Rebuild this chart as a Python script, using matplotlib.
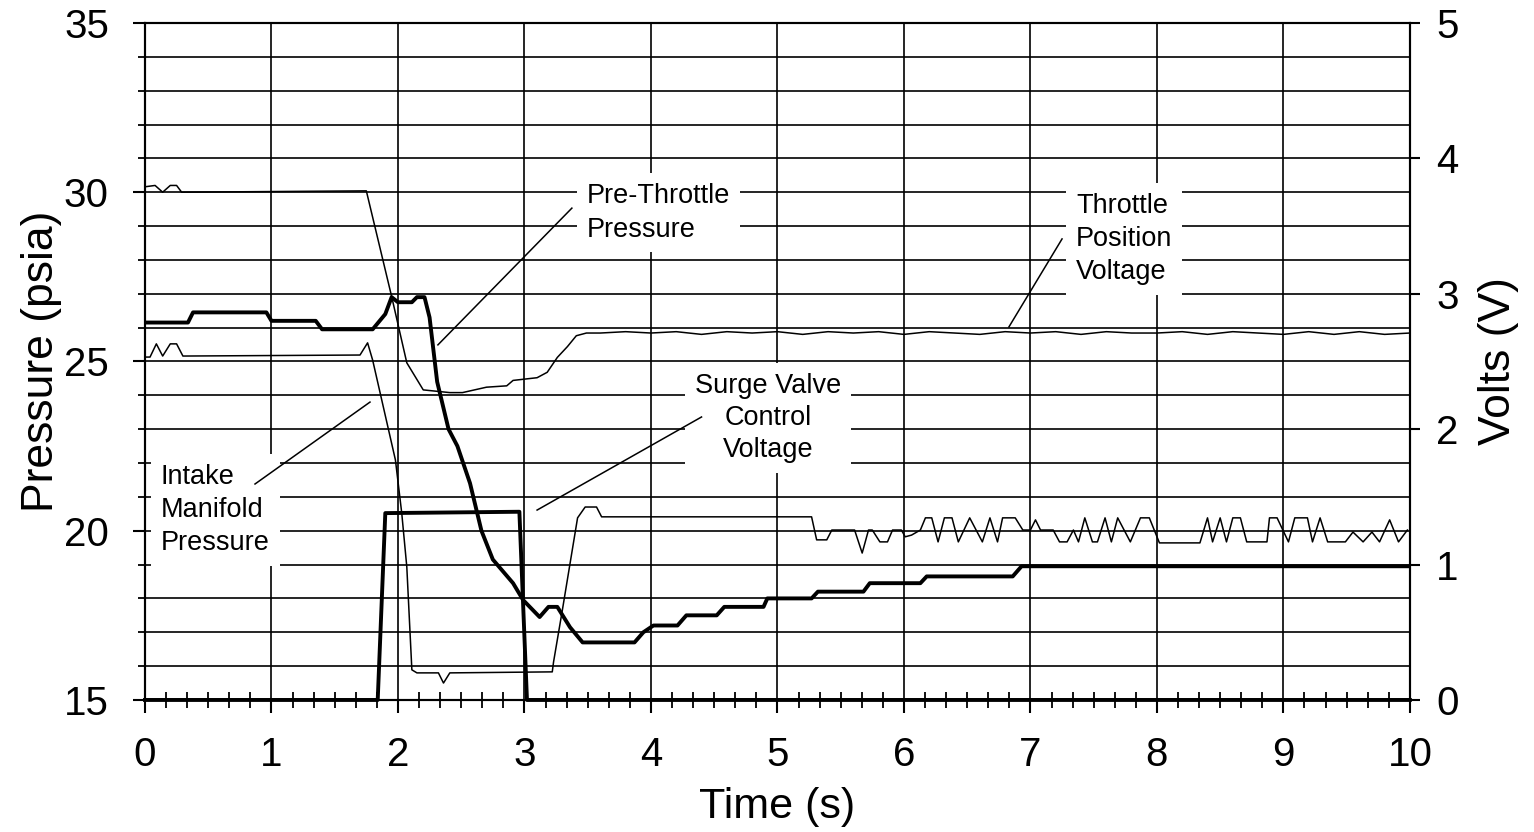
import matplotlib
matplotlib.use("Agg")
import matplotlib.pyplot as plt
from matplotlib.ticker import MultipleLocator

plt.rcParams['font.family'] = ['Liberation Sans', 'DejaVu Sans']

# pre-throttle pressure (psia), thick line, left axis
pre_t = [0, 0.34, 0.38, 0.96, 1.0, 1.35, 1.40, 1.80, 1.90, 1.95, 2.0, 2.11, 2.15, 2.21,
         2.25, 2.31, 2.40, 2.47, 2.57, 2.66, 2.75, 2.91, 2.99, 3.12, 3.19, 3.26, 3.36,
         3.46, 3.87, 3.94, 4.02, 4.21, 4.28, 4.52, 4.58, 4.89, 4.92, 5.27, 5.32, 5.68,
         5.73, 6.13, 6.18, 6.86, 6.93, 10.0]
pre_psi = [26.15, 26.15, 26.45, 26.45, 26.2, 26.2, 25.95, 25.95, 26.4, 26.9, 26.75, 26.75,
           26.9, 26.9, 26.3, 24.4, 23.0, 22.5, 21.4, 20.0, 19.15, 18.45, 17.95, 17.45,
           17.75, 17.75, 17.15, 16.7, 16.7, 17.0, 17.2, 17.2, 17.5, 17.5, 17.75, 17.75,
           18.0, 18.0, 18.2, 18.2, 18.45, 18.45, 18.65, 18.65, 18.95, 18.95]

# intake manifold pressure (psia), thin line, left axis
intake_t = [0, 0.04, 0.09, 0.14, 0.20, 0.25, 0.30, 1.70, 1.76, 1.80, 1.98, 2.03, 2.07, 2.11,
            2.15, 2.32, 2.36, 2.41, 3.22, 3.23, 3.30, 3.42, 3.48, 3.57, 3.61, 5.27,
            5.31, 5.39, 5.43, 5.61, 5.67, 5.72, 5.75, 5.81, 5.87, 5.91, 5.98, 6.01, 6.06,
            6.13, 6.17, 6.22, 6.27, 6.32, 6.38, 6.43, 6.52, 6.62, 6.68, 6.74, 6.78, 6.88,
            6.94, 7.00, 7.04, 7.08, 7.18, 7.23, 7.29, 7.34, 7.38, 7.43, 7.49, 7.53, 7.59,
            7.64, 7.69, 7.79, 7.87, 7.94, 8.02, 8.34, 8.40, 8.44, 8.50, 8.55, 8.60, 8.66,
            8.71, 8.87, 8.89, 8.95, 9.04, 9.09, 9.19, 9.23, 9.29, 9.35, 9.49, 9.55, 9.63,
            9.70, 9.76, 9.84, 9.91, 9.98]
intake_psi = [25.13, 25.13, 25.52, 25.16, 25.52, 25.52, 25.16, 25.19, 25.55, 25.04, 22.09,
              20.52, 18.93, 15.89, 15.80, 15.80, 15.50, 15.80, 15.83, 16.12, 17.66, 20.38,
              20.70, 20.70, 20.41, 20.41,
              19.73, 19.73, 20.02, 20.02, 19.34, 20.02, 20.02, 19.67, 19.67, 20.02, 20.02,
              19.82, 19.87, 20.02, 20.38, 20.38, 19.67, 20.38, 20.38, 19.67, 20.38, 19.67,
              20.38, 19.67, 20.38, 20.38, 20.02, 20.02, 20.32, 20.02, 20.02, 19.67, 19.67,
              20.02, 19.67, 20.38, 19.67, 19.67, 20.38, 19.67, 20.38, 19.67, 20.38, 20.38,
              19.64, 19.64, 20.38, 19.67, 20.38, 19.67, 20.38, 20.38, 19.67, 19.67, 20.38,
              20.38, 19.67, 20.38, 20.38, 19.67, 20.38, 19.67, 19.67, 19.96, 19.67, 19.96,
              19.67, 20.32, 19.67, 20.02]

# throttle position voltage (V), thin line, right axis
tps_t = [0, 0.08, 0.14, 0.20, 0.25, 0.29, 1.75, 1.95, 2.07, 2.20, 2.41, 2.51, 2.70, 2.86,
         2.91, 3.10, 3.18, 3.26, 3.34, 3.41, 3.49, 3.6, 3.8, 4.0, 4.2, 4.4, 4.6, 4.8, 5.0,
         5.2, 5.4, 5.6, 5.8, 6.0, 6.2, 6.4, 6.6, 6.8, 7.0, 7.2, 7.4, 7.6, 7.8, 8.0, 8.2,
         8.4, 8.6, 8.8, 9.0, 9.2, 9.4, 9.6, 9.8, 10.0]
tps_v = [3.79, 3.80, 3.75, 3.80, 3.80, 3.75, 3.76, 2.98, 2.49, 2.29, 2.27, 2.27, 2.31, 2.32,
         2.36, 2.38, 2.42, 2.53, 2.61, 2.69, 2.71, 2.71, 2.72, 2.71, 2.72, 2.70, 2.72, 2.71,
         2.72, 2.70, 2.72, 2.71, 2.72, 2.70, 2.72, 2.71, 2.70, 2.72, 2.71, 2.72, 2.70, 2.72,
         2.71, 2.71, 2.72, 2.70, 2.72, 2.71, 2.70, 2.72, 2.70, 2.72, 2.70, 2.71]

# surge valve control voltage (V), thick line, right axis
surge_t = [0, 1.84, 1.90, 2.96, 3.02, 10.0]
surge_v = [0, 0, 1.38, 1.39, 0, 0]

fig = plt.figure(figsize=(15.34, 8.32), dpi=100)
ax = fig.add_axes([0.0945, 0.1587, 0.8246, 0.8137])
ax2 = ax.twinx()

ax.set_xlim(0, 10)
ax.set_ylim(15, 35)
ax2.set_ylim(0, 5)

ax.plot(pre_t, pre_psi, color="black", lw=2.8, zorder=3)
ax.plot(intake_t, intake_psi, color="black", lw=1.1, zorder=3)
ax2.plot(tps_t, tps_v, color="black", lw=1.1)
ax2.plot(surge_t, surge_v, color="black", lw=2.8, clip_on=False)

# grid: every second, every psi
ax.xaxis.set_major_locator(MultipleLocator(1))
ax.xaxis.set_minor_locator(MultipleLocator(1 / 6))
ax.yaxis.set_major_locator(MultipleLocator(5))
ax.yaxis.set_minor_locator(MultipleLocator(1))
ax2.yaxis.set_major_locator(MultipleLocator(1))
ax.grid(True, axis="x", which="major", color="black", lw=1.2)
ax.grid(True, axis="y", which="both", color="black", lw=1.2)

ax.tick_params(axis="x", which="major", direction="out", length=9, width=1.5, labelsize=29, pad=17)
ax.tick_params(axis="x", which="minor", direction="inout", length=11, width=1.3)
ax.tick_params(axis="y", which="major", direction="out", length=9, width=1.5, labelsize=29, pad=17)
ax.tick_params(axis="y", which="minor", direction="out", length=5, width=1.3)
ax2.tick_params(axis="y", direction="out", length=7, width=1.5, labelsize=29, pad=12)
for a in (ax, ax2):
	for s in a.spines.values():
		s.set_linewidth(1.5)
		s.set_color("black")

ax.set_xlabel("Time (s)", fontsize=31, labelpad=9)
ax.set_ylabel("Pressure (psia)", fontsize=32, labelpad=1)
ax2.set_ylabel("Volts (V)", fontsize=32, labelpad=14)

# labels with white boxes and leader lines
box = dict(facecolor="white", edgecolor="none", pad=7)
ax.text(3.49, 29.40, "Pre-Throttle\nPressure", fontsize=19.5, ha="left", va="center",
	linespacing=1.4, bbox=box, zorder=5)
ax.plot([3.375, 2.316], [29.53, 25.49], color="black", lw=1.1, zorder=6)

ax.text(0.126, 20.61, "Intake\nManifold\nPressure", fontsize=19.5, ha="left", va="center",
	linespacing=1.35, bbox=box, zorder=5)
ax.plot([0.87, 1.779], [21.38, 23.80], color="black", lw=1.1, zorder=6)

ax.text(4.925, 23.33, "Surge Valve\nControl\nVoltage", fontsize=19.5, ha="center", va="center",
	multialignment="center", linespacing=1.3, bbox=box, zorder=5)
ax.plot([4.40, 3.10], [23.36, 20.61], color="black", lw=1.1, zorder=6)

ax.text(7.36, 28.62, "Throttle\nPosition\nVoltage", fontsize=19.5, ha="left", va="center",
	linespacing=1.35, bbox=box, zorder=5)
ax.plot([7.25, 6.83], [28.62, 26.02], color="black", lw=1.1, zorder=6)

fig.savefig("out.png", dpi=100)
